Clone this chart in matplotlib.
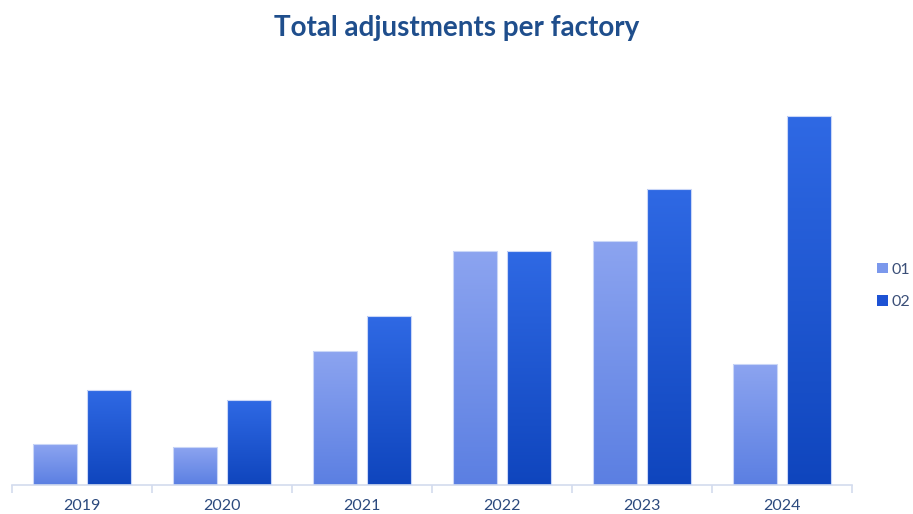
import numpy as np
import matplotlib.pyplot as plt
from matplotlib.colors import LinearSegmentedColormap
from matplotlib.patches import Patch

years = ["2019", "2020", "2021", "2022", "2023", "2024"]
factory_01 = [41, 38, 134, 234, 244, 121]
factory_02 = [95, 85, 169, 234, 296, 369]

# top -> bottom gradient for each series
grad_01 = ["#8ca4f0", "#5b7fe2"]
grad_02 = ["#2f69e4", "#0f45bd"]

plt.rcParams["font.family"] = ["Lato", "DejaVu Sans"]

fig = plt.figure(figsize=(9.13, 5.14), dpi=100)
ax = fig.add_axes([12 / 913, 29 / 514, 840 / 913, 425 / 514])

x = np.arange(len(years))
width = 0.314
offset = 0.19


def gradient_bars(xs, values, colors):
    cmap = LinearSegmentedColormap.from_list("g", colors[::-1])
    bars = ax.bar(xs, values, width, facecolor="none", edgecolor="#c9d6f7",
                  linewidth=0.8, zorder=3)
    grad = np.linspace(0, 1, 256).reshape(-1, 1)
    for b in bars:
        x0, y0 = b.get_x(), b.get_y()
        im = ax.imshow(grad, extent=[x0, x0 + b.get_width(), y0, y0 + b.get_height()],
                       origin="lower", cmap=cmap, aspect="auto", zorder=2)
        im.set_clip_path(b)
    return bars


gradient_bars(x - offset, factory_01, grad_01)
gradient_bars(x + offset, factory_02, grad_02)

ax.set_xlim(-0.5, len(years) - 0.5)
ax.set_ylim(0, 425)

for s in ["top", "right", "left"]:
    ax.spines[s].set_visible(False)
ax.spines["bottom"].set_color("#d3dcee")
ax.spines["bottom"].set_linewidth(1.2)
ax.set_yticks([])

ax.set_xticks(x)
ax.set_xticklabels(years, fontsize=11.5, color="#2c4a7e")
ax.tick_params(axis="x", length=0, pad=10)
ax.set_xticks(np.arange(len(years) + 1) - 0.5, minor=True)
ax.tick_params(axis="x", which="minor", length=6, color="#d3dcee", width=1.2)

fig.text(0.5, 0.945, "Total adjustments per factory", ha="center", va="center",
         fontsize=20, fontweight="bold", color="#1f4e8c")

handles = [Patch(facecolor="#7b98ec", edgecolor="none"),
           Patch(facecolor="#1d52d4", edgecolor="none")]
fig.legend(handles, ["01", "02"], loc="center left", bbox_to_anchor=(0.961, 0.444),
           frameon=False, fontsize=11.5, labelcolor="#3b4f78", handlelength=0.65,
           handleheight=0.65, handletextpad=0.25, labelspacing=1.15, borderpad=0,
           borderaxespad=0)

fig.savefig("out.png", dpi=100)
